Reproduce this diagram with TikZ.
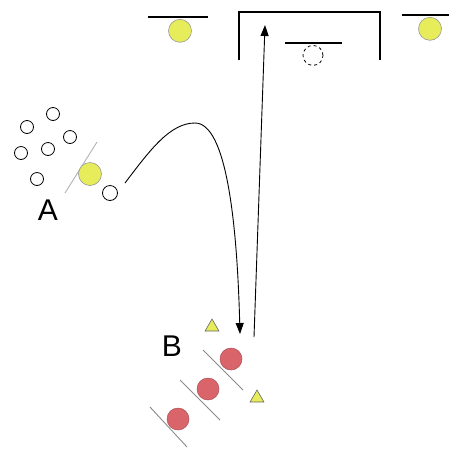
\documentclass[tikz,border=0pt]{standalone}
\usepackage{fontspec}
\setmainfont{Liberation Sans}
\usetikzlibrary{arrows.meta,positioning,shapes.geometric}
\definecolor{ball}{HTML}{E6EC5A}
\definecolor{redball}{HTML}{D9646A}
\definecolor{wall}{HTML}{8A8A8A}

\begin{document}
\begin{tikzpicture}[x=1pt, y=-1pt, >={Triangle[length=11pt,width=8pt]},
      every node/.style={inner sep=0pt},
      open/.style={circle, draw, line width=0.8pt, fill=white, minimum size=13pt},
      yel/.style={circle, draw=black!40, line width=0.6pt, fill=ball, minimum size=23pt},
      red/.style={circle, draw=redball!80!black, line width=0.5pt, fill=redball, minimum size=22pt},
      tri/.style={regular polygon, regular polygon sides=3, draw=black!60, line width=0.6pt,
        fill=ball, minimum size=16pt},
      surf/.style={line width=1.1pt},
      diag/.style={draw=wall, line width=0.9pt},
      lbl/.style={font=\fontsize{30}{30}\selectfont}]
    \useasboundingbox (0,0) rectangle (449,448);
    % group A
    \draw[diag, draw=black!30] (65,193) -- (97,142);
    \node[open] (a1) at (53,114) {};
    \node[open] (a2) at (27,127) {};
    \node[open] (a3) at (70,137) {};
    \node[open] (a4) at (48,149) {};
    \node[open] (a5) at (21,153) {};
    \node[open] (a6) at (37,179) {};
    \node[yel] (ya) at (90,174) {};
    \node[open, minimum size=15pt] (out) at (110,193) {};
    \node[lbl] (la) at (48,210) {A};
    % top sites
    \coordinate (bl) at (239,60); \coordinate (br) at (380,60);
    \draw[surf] (bl) -- (239,12) -- (380,12) -- (br);
    \draw[surf] (148,17) -- (208,17);
    \node[yel, anchor=north] (yl) at (180,19) {};
    \draw[surf] (402,15) -- (449,15);
    \node[yel, anchor=north] (yr) at (430,17) {};
    \draw[surf] (285,43) -- (342,43);
    \node[open, dashed, minimum size=20pt, anchor=north] (yc) at (313,45) {};
    % group B
    \draw[diag] (203,350) -- (243,390);
    \draw[diag] (180,380) -- (220,420);
    \draw[diag] (150,407) -- (187,447);
    \node[red] (b1) at (231,359) {};
    \node[red] (b2) at (208,389) {};
    \node[red] (b3) at (178,419) {};
    \node[tri] (t1) at (212,327) {};
    \node[tri] (t2) at (257,398) {};
    \node[lbl] (lb) at (172,346) {B};
    % paths
    \coordinate (start) at (125,183);
    \coordinate (down) at (240,334);
    \coordinate (upfrom) at (254,337);
    \coordinate (upto) at (265,25);
    \draw[->, line width=0.9pt] (start) .. controls (150,150) and (170,123) .. (195,123)
      .. controls (226,123) and (237,220) .. (down);
    \draw[->, line width=0.9pt] (upfrom) -- (upto);
\end{tikzpicture}
\end{document}
